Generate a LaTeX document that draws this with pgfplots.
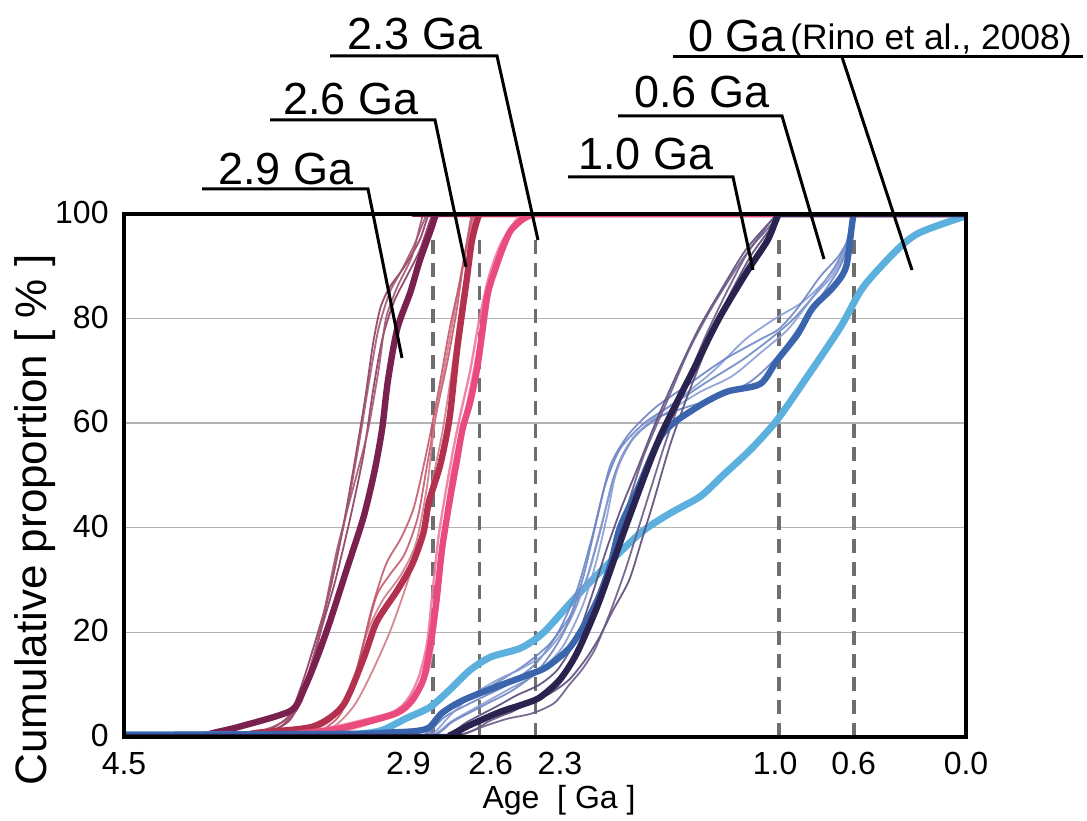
\documentclass[border=0pt]{standalone}
\usepackage{fontspec}
\setmainfont{Liberation Sans}
\usepackage{pgfplots}
\pgfplotsset{compat=1.18}

% group colours
\definecolor{g29}{HTML}{7B2150}
\definecolor{g29a}{HTML}{8E3A62}
\definecolor{g29b}{HTML}{A2566F}
\definecolor{g26}{HTML}{B3304F}
\definecolor{g26a}{HTML}{C4596C}
\definecolor{g26b}{HTML}{D07A86}
\definecolor{g23}{HTML}{EA4B7E}
\definecolor{g23a}{HTML}{F07A9C}
\definecolor{g23b}{HTML}{F49AB3}
\definecolor{g10}{HTML}{2A2350}
\definecolor{g10a}{HTML}{5B4A7A}
\definecolor{g10b}{HTML}{6C5B86}
\definecolor{g06}{HTML}{3A65AD}
\definecolor{g06a}{HTML}{6D86C4}
\definecolor{g06b}{HTML}{8A9DD4}
\definecolor{g00}{HTML}{5BB0DE}
\definecolor{dashgray}{HTML}{6E6E6E}

\begin{document}
\begin{tikzpicture}
\useasboundingbox (0,0) rectangle (543.5pt,410pt);
\begin{axis}[
  name=ax,
  at={(272.5pt,172.25pt)}, anchor=center,
  scale only axis, width=421pt, height=261.5pt,
  xmin=0, xmax=4.5, x dir=reverse,
  ymin=0, ymax=100,
  xtick={4.5,2.98,2.54,2.17,1.02,0.60,0},
  xticklabels={4.5,2.9,2.6,2.3,1.0,0.6,0.0},
  ytick={0,20,40,60,80,100},
  ymajorgrids,
  grid style={color=black!30, line width=0.7pt},
  major tick length=0pt,
  tick label style={font=\fontsize{16}{18}\selectfont, inner sep=0.5pt},
  /pgf/number format/assume math mode=true,
  xticklabel style={yshift=-7pt},
  yticklabel style={xshift=-7pt, yshift=0.8pt},
  axis line style={line width=2pt},
  thin29/.style={color=g29a, line width=0.9pt, opacity=0.9},
  thin29b/.style={color=g29b, line width=0.9pt, opacity=0.9},
  thin26/.style={color=g26a, line width=0.9pt, opacity=0.9},
  thin26b/.style={color=g26b, line width=0.9pt, opacity=0.9},
  thin23/.style={color=g23a, line width=1.2pt, opacity=0.9},
  thin23b/.style={color=g23b, line width=1.2pt, opacity=0.9},
  thin10/.style={color=g10a, line width=0.9pt, opacity=0.9},
  thin10b/.style={color=g10b, line width=0.9pt, opacity=0.9},
  thin06/.style={color=g06a, line width=0.9pt, opacity=0.9},
  thin06b/.style={color=g06b, line width=0.9pt, opacity=0.9},
  every axis plot/.append style={smooth, tension=0.45, line join=round, line cap=round, mark=none},
]

% reference ages
\foreach \a in {2.85,2.6,2.3,1.0,0.6}{
  \edef\tmp{\noexpand\draw[dashgray, line width=1.8pt, dash pattern=on 7pt off 4.5pt]
    (axis cs:\a,0) -- (axis cs:\a,96);}
  \tmp
}

% ---- 2.9 Ga ----
\addplot[thin29] coordinates {(4.5,0)(4.00,0)(3.95,0)(3.75,1)(3.62,4)(3.55,10)(3.48,18)(3.40,28)(3.33,40)(3.27,52)(3.21,65)(3.17,75)(3.13,82)(3.08,86)(3.00,90)(2.92,95)(2.87,100)(2.83,100)(0,100)};
\addplot[thin29b] coordinates {(4.5,0)(3.90,0)(3.85,0)(3.66,2)(3.56,7)(3.50,14)(3.44,22)(3.37,33)(3.30,45)(3.24,57)(3.19,68)(3.14,78)(3.08,85)(3.02,89)(2.95,94)(2.88,100)(2.84,100)(0,100)};
\addplot[thin29] coordinates {(4.5,0)(3.85,0)(3.80,0)(3.62,3)(3.52,10)(3.45,20)(3.37,30)(3.29,42)(3.22,54)(3.17,66)(3.12,76)(3.06,83)(2.99,88)(2.92,93)(2.85,100)(2.81,100)(0,100)};
\addplot[thin29b] coordinates {(4.5,0)(3.95,0)(3.90,0)(3.70,2)(3.58,5)(3.50,12)(3.43,24)(3.36,36)(3.28,47)(3.20,58)(3.14,70)(3.10,80)(3.04,86)(2.96,92)(2.90,100)(2.86,100)(0,100)};
\addplot[color=g29, line width=3.2pt] coordinates {(4.5,0)(4.15,0)(4.10,0)(4.02,0.8)(3.88,2)(3.61,5)(3.54,9)(3.47,15)(3.40,22)(3.31,32)(3.22,42)(3.16,51)(3.12,59)(3.09,68)(3.04,78)(2.97,85)(2.92,91)(2.86,97)(2.83,100)(2.79,100)(0,100)};

% ---- 2.6 Ga ----
\addplot[thin26] coordinates {(4.5,0)(3.75,0)(3.70,0)(3.45,2)(3.30,8)(3.22,18)(3.15,27)(3.08,31)(3.00,35)(2.93,42)(2.88,52)(2.83,62)(2.77,72)(2.72,82)(2.68,92)(2.63,100)(2.59,100)(0,100)};
\addplot[thin26b] coordinates {(4.5,0)(3.65,0)(3.60,0)(3.40,3)(3.28,10)(3.20,20)(3.12,26)(3.02,31)(2.94,37)(2.88,48)(2.84,60)(2.79,70)(2.74,80)(2.69,90)(2.62,100)(2.58,100)(0,100)};
\addplot[thin26] coordinates {(4.5,0)(3.55,0)(3.50,0)(3.35,4)(3.26,12)(3.18,24)(3.10,33)(3.02,38)(2.95,44)(2.88,55)(2.82,66)(2.76,78)(2.70,88)(2.64,100)(2.60,100)(0,100)};
\addplot[thin26b] coordinates {(4.5,0)(3.60,0)(3.55,0)(3.38,2)(3.27,6)(3.18,12)(3.08,20)(3.00,28)(2.93,36)(2.87,46)(2.80,58)(2.74,72)(2.69,85)(2.63,95)(2.60,100)(2.56,100)(0,100)};
\addplot[color=g26, line width=3.2pt] coordinates {(4.5,0)(3.95,0)(3.90,0)(3.79,0.8)(3.49,2)(3.33,6)(3.22,15)(3.15,22)(3.04,28)(2.96,33)(2.90,39)(2.87,45)(2.81,52)(2.76,61)(2.72,74)(2.67,87)(2.64,95)(2.60,100)(2.56,100)(0,100)};

% ---- 2.3 Ga ----
\addplot[thin23] coordinates {(4.5,0)(3.85,0)(3.80,0)(3.45,1.5)(3.25,3)(3.05,5)(2.97,8)(2.92,12)(2.88,18)(2.85,28)(2.82,38)(2.78,47)(2.74,55)(2.70,62)(2.65,70)(2.60,80)(2.55,88)(2.49,94)(2.42,98)(2.34,100)(2.30,100)(0,100)};
\addplot[thin23b] coordinates {(4.5,0)(3.75,0)(3.70,0)(3.35,1)(3.15,3)(3.00,5)(2.93,8)(2.87,13)(2.84,20)(2.81,30)(2.78,40)(2.74,48)(2.70,56)(2.66,62)(2.62,68)(2.58,76)(2.54,86)(2.49,92)(2.44,96)(2.38,99)(2.32,100)(2.28,100)(0,100)};
\addplot[thin23] coordinates {(4.5,0)(3.65,0)(3.60,0)(3.30,2)(3.10,4)(2.98,7)(2.91,11)(2.87,18)(2.83,28)(2.79,40)(2.75,50)(2.71,57)(2.67,63)(2.63,70)(2.58,80)(2.53,88)(2.47,95)(2.40,99)(2.33,100)(2.29,100)(0,100)};
\addplot[color=g23, line width=3.2pt] coordinates {(4.5,0)(3.80,0)(3.76,0)(3.40,1.3)(3.22,2.7)(3.04,4.6)(2.96,7)(2.90,11)(2.865,17)(2.83,26)(2.80,36)(2.76,45)(2.72,53)(2.69,59)(2.65,64)(2.61,71)(2.56,84)(2.52,89)(2.47,94)(2.43,97)(2.36,99.2)(2.30,100)(2.26,100)(0,100)};

% ---- 0 Ga (Rino et al., 2008) ----
\addplot[color=g00, line width=3.5pt] coordinates {(4.5,0.4)(3.40,0.4)(3.24,0.6)(3.12,1.3)(2.99,3.6)(2.865,5.7)(2.76,9)(2.65,12.8)(2.54,15.3)(2.38,17)(2.26,19.9)(2.10,26.2)(1.96,31.4)(1.74,39)(1.58,42.8)(1.42,46)(1.30,50)(1.15,55)(1.01,60.6)(0.85,68.8)(0.67,78.4)(0.55,86)(0.37,93.1)(0.25,96.4)(0.02,99.4)};

% ---- 0.6 Ga thin ----
\addplot[thin06] coordinates {(4.5,0)(2.95,0)(2.90,0.3)(2.84,2)(2.78,4)(2.62,7)(2.45,10)(2.30,14)(2.18,20)(2.08,28)(2.00,38)(1.93,48)(1.85,55)(1.72,60)(1.55,64)(1.38,68)(1.20,72)(1.05,76)(0.92,80)(0.80,85)(0.70,90)(0.63,95)(0.60,100)(0.56,100)(0,100)};
\addplot[thin06b] coordinates {(4.5,0)(2.90,0)(2.85,0.3)(2.80,1.5)(2.75,3)(2.60,6)(2.45,9)(2.30,12)(2.16,17)(2.05,25)(1.98,33)(1.92,42)(1.86,52)(1.76,58)(1.60,62)(1.42,66)(1.25,69)(1.08,74)(0.95,78)(0.82,84)(0.72,88)(0.64,93)(0.60,100)(0.56,100)(0,100)};
\addplot[thin06] coordinates {(4.5,0)(2.93,0)(2.88,0.3)(2.83,2.5)(2.78,5)(2.62,8)(2.48,11)(2.35,14)(2.22,18)(2.10,24)(2.02,31)(1.95,40)(1.88,50)(1.78,57)(1.65,61)(1.50,63)(1.32,65)(1.15,68)(1.00,73)(0.88,79)(0.76,85)(0.66,91)(0.60,100)(0.56,100)(0,100)};
\addplot[thin06b] coordinates {(4.5,0)(2.91,0)(2.86,0.3)(2.81,2)(2.76,4)(2.64,8)(2.50,11)(2.38,13)(2.25,16)(2.12,22)(2.03,30)(1.96,39)(1.90,47)(1.82,55)(1.70,60)(1.52,65)(1.35,70)(1.18,76)(1.02,80)(0.88,83)(0.76,87)(0.66,92)(0.60,100)(0.56,100)(0,100)};
\addplot[thin06] coordinates {(4.5,0)(2.89,0)(2.84,0.3)(2.79,1.5)(2.74,3)(2.58,6)(2.42,9)(2.28,13)(2.15,20)(2.05,30)(1.97,42)(1.90,52)(1.80,58)(1.66,63)(1.50,67)(1.30,72)(1.10,76)(1.00,78)(0.90,82)(0.78,88)(0.68,92)(0.62,96)(0.60,100)(0.56,100)(0,100)};

% ---- 1.0 Ga thin ----
\addplot[thin10] coordinates {(4.5,0)(2.80,0)(2.75,0.3)(2.69,1.5)(2.62,3)(2.45,4.5)(2.38,5.7)(2.22,8.4)(2.12,11)(2.03,15)(1.96,19)(1.89,24)(1.80,30)(1.73,38)(1.67,45)(1.58,56)(1.48,66)(1.38,75)(1.27,84)(1.15,92)(1.05,97)(1.00,100)(0.96,100)(0,100)};
\addplot[thin10b] coordinates {(4.5,0)(2.77,0)(2.72,0.3)(2.65,1)(2.58,2)(2.45,3.5)(2.32,4.5)(2.20,6.5)(2.12,10)(2.05,13)(1.98,17)(1.90,24)(1.82,32)(1.75,40)(1.68,48)(1.60,57)(1.50,67)(1.40,76)(1.28,85)(1.16,93)(1.04,98)(1.00,100)(0.96,100)(0,100)};
\addplot[thin10] coordinates {(4.5,0)(2.83,0)(2.78,0.3)(2.72,1.5)(2.66,3)(2.50,6)(2.40,8)(2.28,10)(2.18,13)(2.08,19)(2.00,27)(1.92,36)(1.84,44)(1.76,51)(1.66,60)(1.55,69)(1.43,78)(1.30,86)(1.18,93)(1.06,98)(1.00,100)(0.96,100)(0,100)};
\addplot[thin10b] coordinates {(4.5,0)(2.75,0)(2.70,0.3)(2.62,1.5)(2.55,3)(2.42,5)(2.30,7)(2.20,9)(2.10,14)(2.02,21)(1.95,28)(1.88,36)(1.82,43)(1.72,54)(1.60,64)(1.48,74)(1.36,82)(1.22,90)(1.10,96)(1.01,100)(0.97,100)(0,100)};

% ---- thick 0.6 Ga and 1.0 Ga ----
\addplot[color=g06, line width=3.2pt] coordinates {(4.5,0.4)(3.30,0.6)(3.12,0.8)(2.95,1.1)(2.87,1.8)(2.80,4.6)(2.69,7)(2.51,9.6)(2.33,12)(2.24,13.4)(2.12,17)(2.03,22)(1.96,27)(1.90,33)(1.85,40)(1.76,47)(1.62,58)(1.44,63)(1.28,66)(1.10,67.5)(1.01,72)(0.90,77)(0.82,82)(0.71,86)(0.64,90)(0.60,100)(0.56,100)(0,100)};
\addplot[color=g10, line width=3.2pt] coordinates {(4.5,0)(2.81,0)(2.76,0.3)(2.71,1.2)(2.65,2.3)(2.49,4.8)(2.38,6.1)(2.28,7.5)(2.17,11)(2.08,16)(1.97,25)(1.87,35)(1.80,42)(1.64,57)(1.46,70)(1.32,80)(1.17,89)(1.06,95)(1.00,100)(0.96,100)(0,100)};
\end{axis}

% frame drawn over the curves
\draw[line width=2pt, line join=miter] (ax.south west) rectangle (ax.north east);

% labels and leader lines
\begin{scope}[x=0.5pt, y=-0.5pt, yshift=410pt, line width=1.5pt]
  \node[rotate=90, anchor=base, font=\fontsize{22}{26}\selectfont] at (47,520) {Cumulative proportion [ \% ]};
  \node[anchor=base, font=\fontsize{16}{19}\selectfont] at (559,808) {Age\ \ [ Ga ]};

  \draw (202,189) -- (368,189) -- (402,358);
  \node[anchor=base, font=\fontsize{22.5}{27}\selectfont] at (286,185) {2.9 Ga};
  \draw (270,120) -- (435,120) -- (466,267);
  \node[anchor=base, font=\fontsize{22.5}{27}\selectfont] at (351,115) {2.6 Ga};
  \draw (330,56) -- (497,56) -- (538,240);
  \node[anchor=base, font=\fontsize{22.5}{27}\selectfont] at (415,50) {2.3 Ga};
  \draw (568,177) -- (733,177) -- (753,270);
  \node[anchor=base, font=\fontsize{22.5}{27}\selectfont] at (646,170) {1.0 Ga};
  \draw (618,116) -- (782,116) -- (824,259);
  \node[anchor=base, font=\fontsize{22.5}{27}\selectfont] at (702,108) {0.6 Ga};
  \draw (673,57) -- (1083,57);
  \draw (842,57) -- (912,270);
  \node[anchor=base, font=\fontsize{22.5}{27}\selectfont] at (737,52) {0 Ga};
  \node[anchor=base, font=\fontsize{17.7}{21}\selectfont] at (931,50) {(Rino et al., 2008)};
\end{scope}
\end{tikzpicture}
\end{document}
